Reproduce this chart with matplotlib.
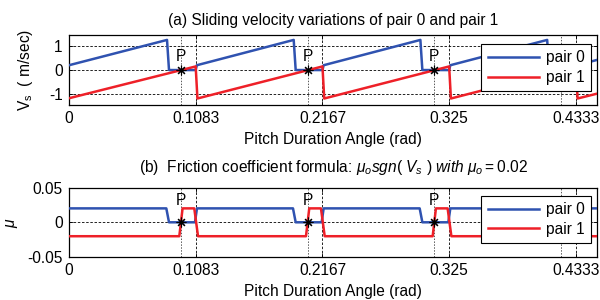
import matplotlib
matplotlib.use("Agg")
import matplotlib.pyplot as plt

plt.rcParams['font.family'] = ['Liberation Sans', 'DejaVu Sans']
plt.rcParams['mathtext.fontset'] = 'custom'
plt.rcParams['mathtext.rm'] = 'Liberation Sans'
plt.rcParams['mathtext.it'] = 'Liberation Sans:italic'
plt.rcParams['font.size'] = 11.2
plt.rcParams['axes.titlesize'] = 11.2

# Data
xticks = [0, 0.1083, 0.2167, 0.325, 0.4333]
xtick_labels = ['0', '0.1083', '0.2167', '0.325', '0.4333']
p_points = [0.0957, 0.2040, 0.3123, 0.4207]   # points P (pitch points)
p_labels = ['P', 'P', 'P', '']                 # last one sits under the legend
x_max = 0.4514

# (a) sliding velocity, pair 0
vs0_x = [0, 0.0838, 0.0855, 0.1083, 0.1093,
         0.1921, 0.1938, 0.2167, 0.2177,
         0.3004, 0.3021, 0.3250, 0.3260,
         0.4088, 0.4105, 0.4333, 0.4343, 0.4514]
vs0_y = [0.2, 1.25, 0, 0, 0.2,
         1.25, 0, 0, 0.2,
         1.25, 0, 0, 0.2,
         1.25, 0, 0, 0.2, 0.42]
# (a) sliding velocity, pair 1
vs1_x = [0, 0.1083, 0.1098, 0.2167, 0.2182, 0.3250, 0.3265, 0.4333, 0.4348, 0.4514]
vs1_y = [-1.17, 0.15, -1.18, 0.15, -1.18, 0.15, -1.18, 0.15, -1.18, -0.98]

# (b) friction coefficient, pair 0
mu0_x = [0, 0.0832, 0.0855, 0.1077, 0.1094,
         0.1915, 0.1938, 0.2160, 0.2177,
         0.2998, 0.3021, 0.3243, 0.3260,
         0.4082, 0.4105, 0.4327, 0.4344, 0.4514]
mu0_y = [0.02, 0.02, 0, 0, 0.02,
         0.02, 0, 0, 0.02,
         0.02, 0, 0, 0.02,
         0.02, 0, 0, 0.02, 0.02]
# (b) friction coefficient, pair 1
mu1_x = [0, 0.0943, 0.0971, 0.1071, 0.1103,
         0.2026, 0.2054, 0.2154, 0.2186,
         0.3109, 0.3137, 0.3237, 0.3269,
         0.4193, 0.4221, 0.4321, 0.4353, 0.4514]
mu1_y = [-0.02, -0.02, 0.02, 0.02, -0.02,
         -0.02, 0.02, 0.02, -0.02,
         -0.02, 0.02, 0.02, -0.02,
         -0.02, 0.02, 0.02, -0.02, -0.02]

blue = '#2f52b0'
red = '#ee2028'
dash = (0, (3, 2))
dot = (0, (1.5, 1.5))

fig = plt.figure(figsize=(6, 3), dpi=100)
ax1 = fig.add_axes([0.115, 0.65, 0.88, 0.233])
ax2 = fig.add_axes([0.115, 0.143, 0.88, 0.232])


def decorate(ax, ylim, yticks, ylabels, p_y):
    ax.set_xlim(0, x_max)
    ax.set_ylim(*ylim)
    ax.set_xticks(xticks)
    ax.set_xticklabels(xtick_labels)
    ax.set_yticks(yticks)
    ax.set_yticklabels(ylabels)
    ax.tick_params(direction='in', top=True, right=True, length=3, width=0.6, pad=4.5)
    for sp in ax.spines.values():
        sp.set_linewidth(0.9)
    for y in yticks:
        ax.axhline(y, color='k', lw=0.6, ls=dash, zorder=1)
    for x in xticks[1:]:
        ax.axvline(x, color='k', lw=0.6, ls=dash, zorder=1)
    for x, lab in zip(p_points, p_labels):
        ax.axvline(x, color='0.35', lw=0.7, ls=dot, zorder=1)
        ax.plot(x, 0, marker=(8, 2, 0), color='k', ms=7, mew=0.8, zorder=4)
        if lab:
            ax.text(x, p_y, lab, ha='center', va='center', zorder=4)
    ax.set_xlabel('Pitch Duration Angle (rad)', labelpad=4)


ax1.plot(vs0_x, vs0_y, color=blue, lw=1.8, label='pair 0', zorder=3)
ax1.plot(vs1_x, vs1_y, color=red, lw=1.8, label='pair 1', zorder=3)
decorate(ax1, (-1.45, 1.45), [-1, 0, 1], ['-1', '0', '1'], 0.55)
ax1.set_ylabel('V$_{\\mathrm{s}}$  ( m/sec)')
ax1.yaxis.set_label_coords(-0.064, 0.5)
ax1.set_title('(a) Sliding velocity variations of pair 0 and pair 1', pad=7)

ax2.plot(mu0_x, mu0_y, color=blue, lw=1.8, label='pair 0', zorder=3)
ax2.plot(mu1_x, mu1_y, color=red, lw=1.8, label='pair 1', zorder=3)
decorate(ax2, (-0.05, 0.05), [-0.05, 0, 0.05], ['-0.05', '0', '0.05'], 0.032)
ax2.set_ylabel('$\\mu$')
ax2.yaxis.set_label_coords(-0.093, 0.5)
ax2.set_title('(b)  Friction coefficient formula: '
              '$\\mu_o sgn(\\ V_s\\ )\\ with\\ \\mu_o{=}0.02$', pad=11)

for ax, top_off in ((ax1, 9 / 70), (ax2, 8.5 / 69.5)):
    leg = ax.legend(loc='upper right', bbox_to_anchor=(1 - 6 / 528, 1 - top_off),
                    borderaxespad=0, fancybox=False, framealpha=1,
                    edgecolor='k', handlelength=3.3, borderpad=0.4,
                    labelspacing=0.3, handletextpad=0.45)
    leg.get_frame().set_linewidth(0.8)
    leg.set_zorder(10)

fig.savefig('out.png', dpi=100)
